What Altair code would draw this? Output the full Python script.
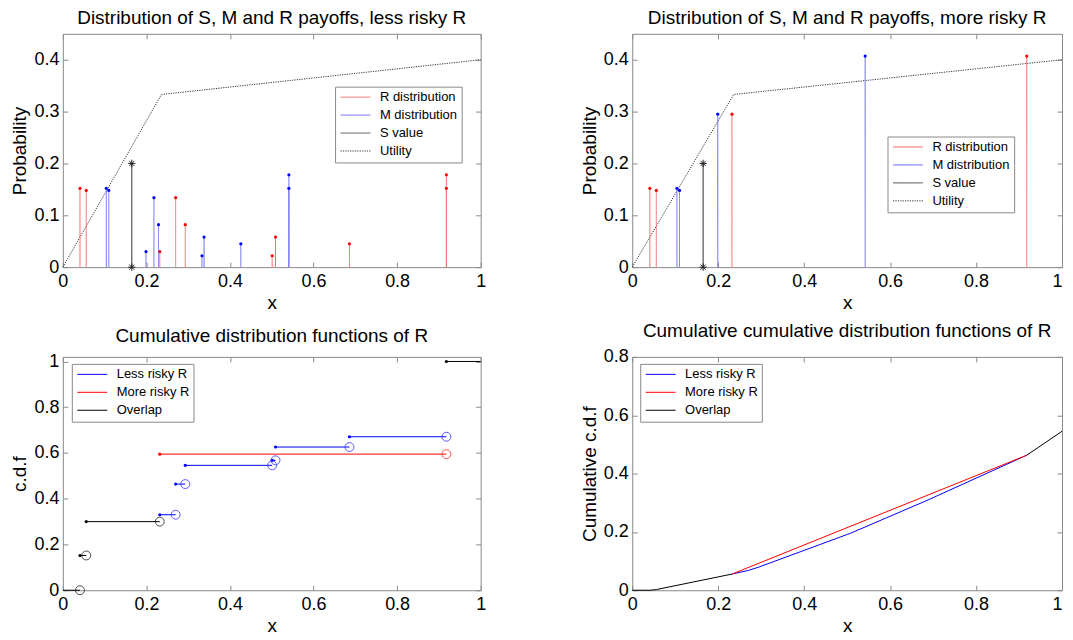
import altair as alt
import pandas as pd

# ---------------- data ----------------
# Panel 1: less risky R
p1_R_x = [0.041, 0.056, 0.232, 0.270, 0.293, 0.501, 0.509, 0.686, 0.918, 0.918]
p1_R_p = [0.152, 0.148, 0.030, 0.134, 0.082, 0.022, 0.058, 0.045, 0.178, 0.152]
p1_M_x = [0.104, 0.110, 0.199, 0.218, 0.229, 0.333, 0.338, 0.426, 0.541, 0.541]
p1_M_p = [0.152, 0.148, 0.030, 0.134, 0.082, 0.022, 0.058, 0.045, 0.178, 0.152]
# Panel 2: more risky R
p2_R_x = [0.041, 0.056, 0.232, 0.918]
p2_R_p = [0.152, 0.148, 0.295, 0.407]
p2_M_x = [0.104, 0.110, 0.199, 0.542]
p2_M_p = [0.152, 0.148, 0.295, 0.407]
# S value and utility
s_x = 0.165
s_p = 0.2
util_x = [0.0, 0.236, 1.0]
util_y = [0.0, 0.333, 0.400]

# Panel 3: c.d.f steps
seg_x0 = [0.0, 0.041, 0.056, 0.232, 0.270, 0.293, 0.501, 0.509, 0.686, 0.232, 0.918]
seg_x1 = [0.041, 0.056, 0.232, 0.270, 0.293, 0.501, 0.509, 0.686, 0.918, 0.918, 1.0]
seg_y = [0.0, 0.152, 0.300, 0.330, 0.464, 0.546, 0.568, 0.626, 0.671, 0.595, 1.0]
seg_kind = ["Overlap", "Overlap", "Overlap",
            "Less risky R", "Less risky R", "Less risky R", "Less risky R",
            "Less risky R", "Less risky R", "More risky R", "Overlap"]

# Panel 4: cumulative c.d.f
cc_less_x = [0.232, 0.270, 0.293, 0.501, 0.509, 0.686, 0.918]
cc_less_y = [0.0554, 0.0679, 0.0786, 0.1916, 0.1961, 0.308, 0.463]
cc_more_x = [0.232, 0.918]
cc_more_y = [0.0554, 0.463]
cc_ov1_x = [0.0, 0.041, 0.056, 0.232]
cc_ov1_y = [0.0, 0.0, 0.0023, 0.0554]
cc_ov2_x = [0.918, 1.0]
cc_ov2_y = [0.463, 0.545]

x_ticks = [0, 0.2, 0.4, 0.6, 0.8, 1]
y1_ticks = [0, 0.1, 0.2, 0.3, 0.4]
y3_ticks = [0, 0.2, 0.4, 0.6, 0.8, 1]
y4_ticks = [0, 0.2, 0.4, 0.6, 0.8]

FONT = "Liberation Sans"
GRAY = "#8a8a8a"
ASTERISK = "M-1,0L1,0M0,-1L0,1M-0.7,-0.7L0.7,0.7M-0.7,0.7L0.7,-0.7"
LEG_SYMBOL = "M-3,0L3,0"
LBL = 18
TTL = 19
RIGHT_W = 431


def axes(role, xt, yt, xtitle=None, ytitle=None, right_edge=False):
    if role == "main":
        xkw = {}
        if right_edge:
            xkw["labelAlign"] = {"condition": {"test": "datum.value == 1", "value": "right"},
                                 "value": "center"}
        ax = alt.Axis(orient="bottom", values=xt, format="~g", title=xtitle, ticks=False,
                      domain=False, grid=False, labelFlush=False, labelPadding=5, titlePadding=3,
                      labelFont=FONT, labelFontSize=LBL, titleFont=FONT, titleFontSize=TTL,
                      titleFontWeight="normal", labelColor="black", titleColor="black", **xkw)
        ay = alt.Axis(orient="left", values=yt, format="~g", title=ytitle, ticks=False,
                      domain=False, grid=False, labelPadding=4, titlePadding=4,
                      labelFont=FONT, labelFontSize=LBL, titleFont=FONT, titleFontSize=TTL,
                      titleFontWeight="normal", labelColor="black", titleColor="black")
    elif role == "t1":
        ax = alt.Axis(orient="bottom", values=xt, labels=False, tickSize=5, offset=-5,
                      domain=False, grid=False, title=None)
        ay = alt.Axis(orient="left", values=yt, labels=False, tickSize=5, offset=-5,
                      domain=False, grid=False, title=None)
    elif role == "t2":
        ax = alt.Axis(orient="top", values=xt, labels=False, tickSize=5, offset=-5,
                      domain=False, grid=False, title=None)
        ay = alt.Axis(orient="right", values=yt, labels=False, tickSize=5, offset=-5,
                      domain=False, grid=False, title=None)
    else:
        ax = None
        ay = None
    return ax, ay


def enc_xy(xf, yf, role, xt, yt, ydom, xtitle=None, ytitle=None, right_edge=False):
    ax, ay = axes(role, xt, yt, xtitle, ytitle, right_edge)
    return dict(
        x=alt.X(xf, type="quantitative", scale=alt.Scale(domain=[0, 1], nice=False), axis=ax),
        y=alt.Y(yf, type="quantitative", scale=alt.Scale(domain=ydom, nice=False), axis=ay),
    )


def legend(lx, ly):
    return alt.Legend(orient="none", legendX=lx, legendY=ly, title=None,
                      symbolType=LEG_SYMBOL, symbolSize=100, symbolStrokeWidth=1,
                      symbolOffset=10, labelOffset=18, labelFontSize=13, labelFont=FONT,
                      labelColor="black", fillColor="white", strokeColor=GRAY,
                      padding=4, rowPadding=4)


DIST_DOM = ["R distribution", "M distribution", "S value", "Utility"]
DIST_COL = ["#f06a6a", "#6a6af0", "#555555", "#333333"]
DIST_DASH = [[1, 0], [1, 0], [1, 0], [1.2, 1.2]]


def dist_panel(Rx, Rp, Mx, Mp, title, lx, ly, width, right_edge=False):
    stems = pd.DataFrame({
        "x": Rx + Mx, "p": Rp + Mp,
        "series": ["R distribution"] * len(Rx) + ["M distribution"] * len(Mx),
    })
    util = pd.DataFrame({"x": util_x, "u": util_y, "series": ["Utility"] * len(util_x)})
    sdf = pd.DataFrame({"x": [s_x], "p": [s_p], "series": ["S value"]})
    sast = pd.DataFrame({"x": [s_x, s_x], "p": [s_p, 0.0]})
    ydom = [0, 0.45]
    lg = legend(lx, ly)
    col = lambda: alt.Color("series:N", scale=alt.Scale(domain=DIST_DOM, range=DIST_COL), legend=lg)
    dash = lambda: alt.StrokeDash("series:N", scale=alt.Scale(domain=DIST_DOM, range=DIST_DASH), legend=lg)

    l_util = alt.Chart(util).mark_line(strokeWidth=1).encode(
        **enc_xy("x", "u", "t1", x_ticks, y1_ticks, ydom), color=col(), strokeDash=dash())
    l_stems = alt.Chart(stems).mark_rule(strokeWidth=1).encode(
        **enc_xy("x", "p", "main", x_ticks, y1_ticks, ydom, "x", "Probability", right_edge),
        y2=alt.datum(0), color=col(), strokeDash=dash())
    l_s = alt.Chart(sdf).mark_rule(strokeWidth=1.2).encode(
        **enc_xy("x", "p", "t2", x_ticks, y1_ticks, ydom),
        y2=alt.datum(0), color=col(), strokeDash=dash())
    l_dots = alt.Chart(stems).mark_point(filled=True, shape="circle", size=10, opacity=1).encode(
        **enc_xy("x", "p", "none", x_ticks, y1_ticks, ydom),
        fill=alt.Fill("series:N", scale=alt.Scale(domain=["R distribution", "M distribution"],
                                                   range=["#ff0000", "#0000ff"]), legend=None))
    l_ast = alt.Chart(sast).mark_point(shape=ASTERISK, size=55, filled=False, color="#222222",
                                       strokeWidth=1, opacity=1).encode(
        **enc_xy("x", "p", "none", x_ticks, y1_ticks, ydom))
    return alt.layer(l_util, l_stems, l_s, l_dots, l_ast).resolve_axis(
        x="independent", y="independent").properties(
        width=width, height=234, title=alt.TitleParams(title, offset=5))


KIND_DOM = ["Less risky R", "More risky R", "Overlap"]
KIND_COL = ["#0000ff", "#ff0000", "#000000"]


def cdf_panel(title, lx, ly, width):
    seg = pd.DataFrame({"x0": seg_x0, "x1": seg_x1, "y": seg_y, "kind": seg_kind})
    dots = seg[seg["x0"] > 0]
    circ = seg[seg["x1"] < 1]
    ydom = [0, 1.02]
    lg = legend(lx, ly)
    l_seg = alt.Chart(seg).mark_rule(strokeWidth=1).encode(
        **enc_xy("x0", "y", "main", x_ticks, y3_ticks, ydom, "x", "c.d.f"),
        x2="x1", color=alt.Color("kind:N", scale=alt.Scale(domain=KIND_DOM, range=KIND_COL), legend=lg))
    l_dots = alt.Chart(dots).mark_point(filled=True, shape="circle", size=10, opacity=1).encode(
        **enc_xy("x0", "y", "t1", x_ticks, y3_ticks, ydom),
        fill=alt.Fill("kind:N", scale=alt.Scale(domain=KIND_DOM, range=KIND_COL), legend=None))
    l_circ = alt.Chart(circ).mark_point(filled=False, shape="circle", size=80, strokeWidth=1,
                                        opacity=0.8).encode(
        **enc_xy("x1", "y", "t2", x_ticks, y3_ticks, ydom),
        stroke=alt.Stroke("kind:N", scale=alt.Scale(domain=KIND_DOM, range=["#3333ff", "#ff2222", "#222222"]),
                          legend=None))
    return alt.layer(l_seg, l_dots, l_circ).resolve_axis(
        x="independent", y="independent").properties(
        width=width, height=234, title=alt.TitleParams(title, offset=7))


def ccdf_panel(title, lx, ly, width, right_edge=False):
    less = pd.DataFrame({"x": cc_less_x, "y": cc_less_y, "kind": "Less risky R", "g": "a"})
    more = pd.DataFrame({"x": cc_more_x, "y": cc_more_y, "kind": "More risky R", "g": "b"})
    ov = pd.concat([
        pd.DataFrame({"x": cc_ov1_x, "y": cc_ov1_y, "kind": "Overlap", "g": "c"}),
        pd.DataFrame({"x": cc_ov2_x, "y": cc_ov2_y, "kind": "Overlap", "g": "d"}),
    ])
    ydom = [0, 0.8]
    lg = legend(lx, ly)
    col = lambda: alt.Color("kind:N", scale=alt.Scale(domain=KIND_DOM, range=KIND_COL), legend=lg)
    l_less = alt.Chart(less).mark_line(strokeWidth=1).encode(
        **enc_xy("x", "y", "main", x_ticks, y4_ticks, ydom, "x", "Cumulative c.d.f", right_edge),
        color=col(), detail="g:N")
    l_more = alt.Chart(more).mark_line(strokeWidth=1).encode(
        **enc_xy("x", "y", "t1", x_ticks, y4_ticks, ydom), color=col(), detail="g:N")
    l_ov = alt.Chart(ov).mark_line(strokeWidth=1).encode(
        **enc_xy("x", "y", "t2", x_ticks, y4_ticks, ydom), color=col(), detail="g:N")
    return alt.layer(l_less, l_more, l_ov).resolve_axis(
        x="independent", y="independent").properties(
        width=width, height=234, title=alt.TitleParams(title, offset=7))


p1 = dist_panel(p1_R_x, p1_R_p, p1_M_x, p1_M_p,
                "Distribution of S, M and R payoffs, less risky R", 273, 53, 419)
p2 = dist_panel(p2_R_x, p2_R_p, p2_M_x, p2_M_p,
                "Distribution of S, M and R payoffs, more risky R", 256, 103, RIGHT_W, True)
p3 = cdf_panel("Cumulative distribution functions of R", 9, 7, 419)
p4 = ccdf_panel("Cumulative cumulative distribution functions of R", 8, 7, RIGHT_W, True)

chart = alt.concat(p1, p2, p3, p4, columns=2,
                   spacing=alt.RowColnumber(row=90, column=152), bounds="flush").resolve_scale(
    color="independent", fill="independent", stroke="independent",
    strokeDash="independent", x="independent", y="independent"
).properties(
    padding={"left": 2, "top": 0, "right": 0, "bottom": 0}
).configure_view(
    stroke=GRAY, strokeWidth=1
).configure_axis(
    labelFont=FONT, labelFontSize=LBL, labelColor="black",
    titleFont=FONT, titleFontSize=TTL, titleFontWeight="normal", titleColor="black",
    tickColor=GRAY, tickWidth=1
).configure_title(
    font=FONT, fontSize=TTL, fontWeight="normal", color="black", anchor="middle"
).configure_legend(
    labelFont=FONT, labelFontSize=13
)

chart.save("out.html", embed_options={"renderer": "svg", "actions": False})
